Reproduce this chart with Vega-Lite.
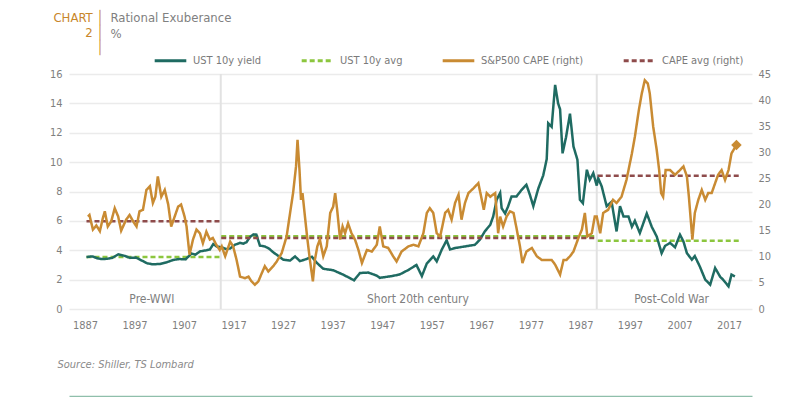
{
  "$schema": "https://vega.github.io/schema/vega-lite/v6.json",
  "width": 683,
  "height": 235,
  "autosize": {"type": "none"},
  "padding": {"left": 69, "top": 74, "right": 55, "bottom": 88},
  "background": "white",
  "config": {
    "font": "Liberation Sans Narrow, DejaVu Sans Condensed, Roboto, sans-serif",
    "view": {"stroke": null},
    "axis": {"labelColor": "#7f7f7f", "labelFontSize": 11, "ticks": false, "domain": false, "gridColor": "#ebebeb", "gridWidth": 1.5, "titleFontWeight": "normal", "labelOverlap": false},
    "legend": {"labelColor": "#7a7a7a", "labelFontSize": 11}
  },
  "datasets": {
    "sep": [{"year": 1914.4}, {"year": 1990.3}],
    "periods": [
      {"label": "Pre-WWI", "year": 1900.5, "v": 0.7},
      {"label": "Short 20th century", "year": 1954.2, "v": 0.7},
      {"label": "Post-Cold War", "year": 2005.4, "v": 0.7}
    ],
    "ustavg": [
      {"seg": "a", "year": 1887.3, "v": 3.54}, {"seg": "a", "year": 1914.25, "v": 3.54},
      {"seg": "b", "year": 1914.5, "v": 4.96}, {"seg": "b", "year": 1990.0, "v": 4.96},
      {"seg": "c", "year": 1990.5, "v": 4.65}, {"seg": "c", "year": 2019.0, "v": 4.65}
    ],
    "capeavg": [
      {"seg": "a", "year": 1887.3, "v": 16.8}, {"seg": "a", "year": 1914.25, "v": 16.8},
      {"seg": "b", "year": 1914.5, "v": 13.6}, {"seg": "b", "year": 1990.0, "v": 13.6},
      {"seg": "c", "year": 1990.5, "v": 25.5}, {"seg": "c", "year": 2019.0, "v": 25.5}
    ],
    "ust": [
      {"year":1887.3,"v":3.54},{"year":1888.5,"v":3.58},{"year":1889.5,"v":3.45},{"year":1890.3,"v":3.40},{"year":1891.5,"v":3.42},{"year":1892.5,"v":3.48},{"year":1893.7,"v":3.72},{"year":1895.0,"v":3.62},{"year":1896.1,"v":3.48},{"year":1897.3,"v":3.50},{"year":1898.1,"v":3.36},{"year":1899.5,"v":3.12},{"year":1900.5,"v":3.05},{"year":1902.1,"v":3.06},{"year":1903.5,"v":3.18},{"year":1904.8,"v":3.34},{"year":1906.0,"v":3.40},{"year":1907.3,"v":3.38},{"year":1908.5,"v":3.78},{"year":1909.3,"v":3.70},{"year":1910.2,"v":3.92},{"year":1911.5,"v":4.00},{"year":1912.2,"v":4.05},{"year":1912.9,"v":4.42},{"year":1913.6,"v":4.25},{"year":1914.6,"v":4.20},{"year":1915.5,"v":4.08},{"year":1916.3,"v":4.12},{"year":1917.3,"v":4.38},{"year":1918.3,"v":4.50},{"year":1919.0,"v":4.45},{"year":1919.6,"v":4.55},{"year":1920.3,"v":4.90},{"year":1921.0,"v":5.08},{"year":1921.6,"v":5.06},{"year":1922.3,"v":4.32},{"year":1923.3,"v":4.26},{"year":1924.2,"v":4.10},{"year":1925.0,"v":3.86},{"year":1926.0,"v":3.62},{"year":1927.0,"v":3.36},{"year":1928.4,"v":3.30},{"year":1929.4,"v":3.58},{"year":1930.4,"v":3.26},{"year":1931.7,"v":3.40},{"year":1932.8,"v":3.56},{"year":1933.8,"v":3.14},{"year":1935.1,"v":2.74},{"year":1937.1,"v":2.64},{"year":1939.1,"v":2.34},{"year":1940.5,"v":2.10},{"year":1941.3,"v":1.95},{"year":1942.5,"v":2.45},{"year":1944.2,"v":2.48},{"year":1945.9,"v":2.27},{"year":1946.5,"v":2.12},{"year":1948.9,"v":2.24},{"year":1950.5,"v":2.35},{"year":1952.3,"v":2.66},{"year":1953.9,"v":3.00},{"year":1955.0,"v":2.24},{"year":1956.0,"v":3.10},{"year":1957.3,"v":3.58},{"year":1958.0,"v":3.24},{"year":1959.0,"v":4.03},{"year":1960.0,"v":4.68},{"year":1960.7,"v":4.05},{"year":1961.7,"v":4.15},{"year":1963.7,"v":4.26},{"year":1965.7,"v":4.37},{"year":1966.7,"v":4.72},{"year":1967.7,"v":5.28},{"year":1968.8,"v":5.73},{"year":1969.4,"v":6.30},{"year":1970.1,"v":7.44},{"year":1970.8,"v":7.90},{"year":1971.1,"v":6.87},{"year":1971.8,"v":6.50},{"year":1972.4,"v":6.98},{"year":1973.1,"v":7.66},{"year":1974.1,"v":7.66},{"year":1975.1,"v":8.10},{"year":1976.1,"v":8.46},{"year":1976.8,"v":7.78},{"year":1977.5,"v":7.00},{"year":1978.5,"v":8.20},{"year":1979.5,"v":9.10},{"year":1980.2,"v":10.2},{"year":1980.5,"v":12.65},{"year":1981.2,"v":12.4},{"year":1981.9,"v":15.26},{"year":1982.5,"v":14.0},{"year":1982.9,"v":13.6},{"year":1983.4,"v":10.6},{"year":1984.1,"v":11.7},{"year":1984.9,"v":13.3},{"year":1985.6,"v":11.07},{"year":1986.4,"v":10.16},{"year":1986.9,"v":7.44},{"year":1987.5,"v":7.2},{"year":1988.3,"v":9.48},{"year":1988.9,"v":8.8},{"year":1989.6,"v":9.25},{"year":1990.3,"v":8.4},{"year":1990.6,"v":8.9},{"year":1991.3,"v":8.35},{"year":1992.3,"v":7.0},{"year":1993.3,"v":7.3},{"year":1994.3,"v":5.28},{"year":1995.0,"v":7.0},{"year":1995.7,"v":6.3},{"year":1996.7,"v":6.3},{"year":1997.4,"v":5.6},{"year":1998.0,"v":6.0},{"year":1999.0,"v":5.17},{"year":2000.4,"v":6.5},{"year":2001.4,"v":5.6},{"year":2002.4,"v":4.94},{"year":2003.4,"v":3.8},{"year":2004.1,"v":4.3},{"year":2005.1,"v":4.5},{"year":2006.1,"v":4.2},{"year":2007.1,"v":5.06},{"year":2007.8,"v":4.6},{"year":2008.5,"v":3.8},{"year":2009.5,"v":3.36},{"year":2010.1,"v":3.6},{"year":2011.1,"v":2.9},{"year":2012.2,"v":2.0},{"year":2013.2,"v":1.66},{"year":2014.2,"v":2.79},{"year":2015.2,"v":2.2},{"year":2015.8,"v":2.0},{"year":2016.9,"v":1.54},{"year":2017.5,"v":2.34},{"year":2018.2,"v":2.22}
    ],
    "cape": [
      {"year":1887.6,"v":17.7},{"year":1887.9,"v":18.0},{"year":1888.6,"v":15.2},{"year":1889.3,"v":16.0},{"year":1890.0,"v":14.9},{"year":1890.6,"v":17.4},{"year":1891.0,"v":18.7},{"year":1891.6,"v":15.8},{"year":1892.3,"v":16.8},{"year":1893.0,"v":19.3},{"year":1893.7,"v":17.7},{"year":1894.3,"v":15.0},{"year":1895.3,"v":17.1},{"year":1896.0,"v":18.0},{"year":1896.7,"v":16.8},{"year":1897.4,"v":15.8},{"year":1898.0,"v":18.7},{"year":1898.7,"v":19.0},{"year":1899.4,"v":22.8},{"year":1900.1,"v":23.5},{"year":1900.7,"v":20.3},{"year":1901.2,"v":21.5},{"year":1901.7,"v":25.4},{"year":1902.4,"v":21.5},{"year":1903.1,"v":22.8},{"year":1903.8,"v":20.0},{"year":1904.4,"v":15.8},{"year":1905.1,"v":17.7},{"year":1905.8,"v":19.6},{"year":1906.4,"v":20.0},{"year":1907.1,"v":17.7},{"year":1907.5,"v":15.8},{"year":1908.1,"v":10.4},{"year":1908.8,"v":13.3},{"year":1909.5,"v":15.2},{"year":1910.2,"v":14.5},{"year":1910.8,"v":12.6},{"year":1911.5,"v":14.8},{"year":1912.2,"v":13.3},{"year":1912.8,"v":13.6},{"year":1913.5,"v":12.3},{"year":1914.2,"v":11.3},{"year":1914.6,"v":12.0},{"year":1915.3,"v":10.1},{"year":1916.3,"v":12.9},{"year":1916.9,"v":12.0},{"year":1917.6,"v":9.4},{"year":1918.3,"v":6.2},{"year":1919.3,"v":5.9},{"year":1920.0,"v":6.2},{"year":1920.6,"v":5.3},{"year":1921.3,"v":4.65},{"year":1922.0,"v":5.3},{"year":1922.7,"v":6.9},{"year":1923.3,"v":8.2},{"year":1924.0,"v":7.2},{"year":1925.0,"v":8.2},{"year":1925.7,"v":9.1},{"year":1926.7,"v":10.7},{"year":1927.7,"v":13.9},{"year":1928.4,"v":18.4},{"year":1929.0,"v":22.2},{"year":1929.6,"v":27.3},{"year":1929.9,"v":32.4},{"year":1930.3,"v":26.6},{"year":1930.6,"v":20.9},{"year":1930.9,"v":22.2},{"year":1931.4,"v":17.7},{"year":1931.9,"v":13.3},{"year":1932.4,"v":9.4},{"year":1933.0,"v":5.3},{"year":1933.4,"v":9.4},{"year":1933.9,"v":12.0},{"year":1934.4,"v":13.3},{"year":1935.1,"v":10.1},{"year":1935.8,"v":12.0},{"year":1936.5,"v":18.4},{"year":1937.1,"v":19.6},{"year":1937.5,"v":22.2},{"year":1937.9,"v":19.0},{"year":1938.5,"v":13.3},{"year":1939.0,"v":15.8},{"year":1939.5,"v":14.5},{"year":1940.1,"v":16.4},{"year":1940.8,"v":14.5},{"year":1941.5,"v":13.3},{"year":1942.2,"v":11.3},{"year":1942.9,"v":8.8},{"year":1943.9,"v":11.3},{"year":1944.9,"v":11.0},{"year":1945.9,"v":12.3},{"year":1946.5,"v":15.8},{"year":1947.2,"v":12.0},{"year":1948.2,"v":11.7},{"year":1949.2,"v":10.1},{"year":1949.9,"v":9.1},{"year":1950.9,"v":11.0},{"year":1952.3,"v":12.0},{"year":1953.3,"v":12.3},{"year":1954.3,"v":12.0},{"year":1955.3,"v":14.5},{"year":1956.0,"v":18.4},{"year":1956.6,"v":19.3},{"year":1957.3,"v":18.4},{"year":1958.0,"v":14.5},{"year":1958.7,"v":13.9},{"year":1959.7,"v":18.4},{"year":1960.3,"v":19.0},{"year":1961.0,"v":17.1},{"year":1961.7,"v":20.3},{"year":1962.4,"v":21.9},{"year":1963.0,"v":17.1},{"year":1963.7,"v":20.3},{"year":1964.4,"v":22.2},{"year":1965.4,"v":23.1},{"year":1966.4,"v":24.1},{"year":1967.1,"v":20.9},{"year":1967.5,"v":19.0},{"year":1968.1,"v":22.2},{"year":1968.8,"v":21.5},{"year":1969.8,"v":22.2},{"year":1970.4,"v":14.5},{"year":1970.8,"v":17.7},{"year":1971.4,"v":15.8},{"year":1972.1,"v":17.7},{"year":1972.8,"v":18.7},{"year":1973.5,"v":18.4},{"year":1974.1,"v":15.5},{"year":1974.8,"v":12.0},{"year":1975.3,"v":8.8},{"year":1976.1,"v":11.0},{"year":1977.2,"v":11.7},{"year":1978.2,"v":10.1},{"year":1979.2,"v":9.4},{"year":1980.2,"v":9.4},{"year":1981.2,"v":9.4},{"year":1981.9,"v":8.5},{"year":1982.9,"v":6.6},{"year":1983.6,"v":9.4},{"year":1984.2,"v":9.4},{"year":1984.9,"v":10.1},{"year":1985.6,"v":11.0},{"year":1986.6,"v":13.6},{"year":1987.3,"v":15.2},{"year":1987.9,"v":18.4},{"year":1988.4,"v":13.9},{"year":1989.3,"v":14.5},{"year":1989.9,"v":17.7},{"year":1990.3,"v":17.7},{"year":1991.0,"v":14.5},{"year":1991.6,"v":18.4},{"year":1992.6,"v":19.0},{"year":1993.6,"v":20.9},{"year":1994.3,"v":20.3},{"year":1995.3,"v":21.5},{"year":1996.3,"v":24.7},{"year":1997.4,"v":29.8},{"year":1998.0,"v":33.0},{"year":1998.8,"v":38.1},{"year":1999.4,"v":41.3},{"year":2000.0,"v":43.8},{"year":2000.6,"v":43.2},{"year":2001.0,"v":41.3},{"year":2001.7,"v":34.9},{"year":2002.4,"v":30.5},{"year":2002.9,"v":26.6},{"year":2003.3,"v":22.2},{"year":2003.7,"v":21.5},{"year":2004.2,"v":26.6},{"year":2005.1,"v":26.6},{"year":2006.1,"v":25.7},{"year":2007.1,"v":26.6},{"year":2007.8,"v":27.3},{"year":2008.5,"v":25.4},{"year":2008.9,"v":21.5},{"year":2009.6,"v":13.3},{"year":2010.1,"v":18.4},{"year":2010.8,"v":20.9},{"year":2011.5,"v":22.8},{"year":2012.2,"v":20.9},{"year":2012.8,"v":22.2},{"year":2013.5,"v":22.2},{"year":2014.2,"v":24.1},{"year":2014.8,"v":25.7},{"year":2015.5,"v":26.6},{"year":2016.2,"v":24.7},{"year":2016.9,"v":26.6},{"year":2017.5,"v":29.8},{"year":2018.5,"v":31.4}
    ]
  },
  "resolve": {"scale": {"y": "independent"}, "axis": {"x": "independent"}},
  "layer": [
    {
      "data": {"name": "sep"},
      "mark": {"type": "rule", "color": "#e2e2e2", "strokeWidth": 2},
      "encoding": {
        "x": {"field": "year", "type": "quantitative",
              "scale": {"domain": [1883.77, 2021.64], "nice": false, "zero": false},
              "axis": null}
      }
    },
    {
      "encoding": {
        "x": {
          "field": "year", "type": "quantitative",
          "scale": {"domain": [1883.77, 2021.64], "nice": false, "zero": false},
          "axis": {
            "values": [1887, 1897, 1907, 1917, 1927, 1937, 1947, 1957, 1967, 1977, 1987, 1997, 2007, 2017],
            "format": "d", "grid": false, "labelPadding": 10, "labelFlush": false, "labelOverlap": false,
            "title": "Source: Shiller, TS Lombard", "titleX": -12, "titleY": 55, "titleAlign": "left",
            "titleBaseline": "middle", "titleFontStyle": "italic", "titleFontSize": 11, "titleColor": "#8a8a8a"
          }
        },
        "y": {"field": "v", "type": "quantitative", "scale": {"domain": [0, 16], "nice": false},
          "axis": {
            "values": [0, 2, 4, 6, 8, 10, 12, 14, 16], "tickCount": 9, "grid": true, "orient": "left", "labelPadding": 7,
            "labelOverlap": false,
            "title": ["CHART \u2502", "2 \u2502", "\u2502"], "titleAngle": 0, "titleAlign": "right", "titleBaseline": "top",
            "titleX": 34, "titleY": -63, "titleFontSize": 13, "titleLineHeight": 15, "titleColor": "#c8862a"
          }}
      },
      "layer": [
        {
          "data": {"name": "ustavg"},
          "mark": {"type": "line", "strokeWidth": 2.5},
          "encoding": {
            "detail": {"field": "seg"},
            "color": {"datum": "UST 10y avg", "type": "nominal"},
            "strokeDash": {"datum": "UST 10y avg", "type": "nominal"}
          }
        },
        {
          "data": {"name": "ust"},
          "mark": {"type": "line", "strokeWidth": 2.5},
          "encoding": {
            "color": {"datum": "UST 10y yield", "type": "nominal",
              "scale": {"domain": ["UST 10y yield", "UST 10y avg", "S&P500 CAPE (right)", "CAPE avg (right)"],
                        "range": ["#1f6b62", "#8cc63e", "#c98b33", "#8e4b4b"]},
              "legend": {"orient": "none", "legendX": 84, "legendY": -31, "direction": "horizontal", "columns": 4,
                         "title": null, "symbolType": "stroke", "symbolSize": 1000, "symbolStrokeWidth": 3,
                         "columnPadding": 33, "labelOffset": 5}},
            "strokeDash": {"datum": "UST 10y yield", "type": "nominal",
              "scale": {"domain": ["UST 10y yield", "UST 10y avg", "S&P500 CAPE (right)", "CAPE avg (right)"],
                        "range": [[1, 0], [5, 3], [1, 0], [5, 3]]}}
          }
        },
        {
          "data": {"name": "periods"},
          "mark": {"type": "text", "fontSize": 12, "color": "#808080", "baseline": "middle"},
          "encoding": {
            "text": {"field": "label"}
          }
        }
      ]
    },
    {
      "encoding": {
        "x": {
          "field": "year", "type": "quantitative",
          "scale": {"domain": [1883.77, 2021.64], "nice": false, "zero": false},
          "axis": {"orient": "bottom", "offset": 87, "labels": false, "grid": false, "ticks": false,
                   "domain": true, "domainColor": "#8fbfab", "domainWidth": 1.5, "title": null}
        },
        "y": {"field": "v", "type": "quantitative", "scale": {"domain": [0, 45], "nice": false},
          "axis": {
            "values": [0, 5, 10, 15, 20, 25, 30, 35, 40, 45], "tickCount": 10, "grid": false, "orient": "right", "labelPadding": 6,
            "labelOverlap": false,
            "title": ["Rational Exuberance", "%"], "titleAngle": 0, "titleAlign": "left", "titleBaseline": "top",
            "titleX": -642, "titleY": -63, "titleFontSize": 13, "titleLineHeight": 16, "titleColor": "#808080"
          }}
      },
      "layer": [
        {
          "data": {"name": "capeavg"},
          "mark": {"type": "line", "strokeWidth": 2.5},
          "encoding": {
            "detail": {"field": "seg"},
            "color": {"datum": "CAPE avg (right)", "type": "nominal"},
            "strokeDash": {"datum": "CAPE avg (right)", "type": "nominal"}
          }
        },
        {
          "data": {"name": "cape"},
          "mark": {"type": "line", "strokeWidth": 2.5},
          "encoding": {
            "color": {"datum": "S&P500 CAPE (right)", "type": "nominal"},
            "strokeDash": {"datum": "S&P500 CAPE (right)", "type": "nominal"}
          }
        },
        {
          "data": {"name": "cape"},
          "transform": [{"filter": "datum.year == 2018.5"}],
          "mark": {"type": "point", "shape": "diamond", "filled": true, "size": 110, "color": "#c98b33", "opacity": 1}
        }
      ]
    }
  ]
}
